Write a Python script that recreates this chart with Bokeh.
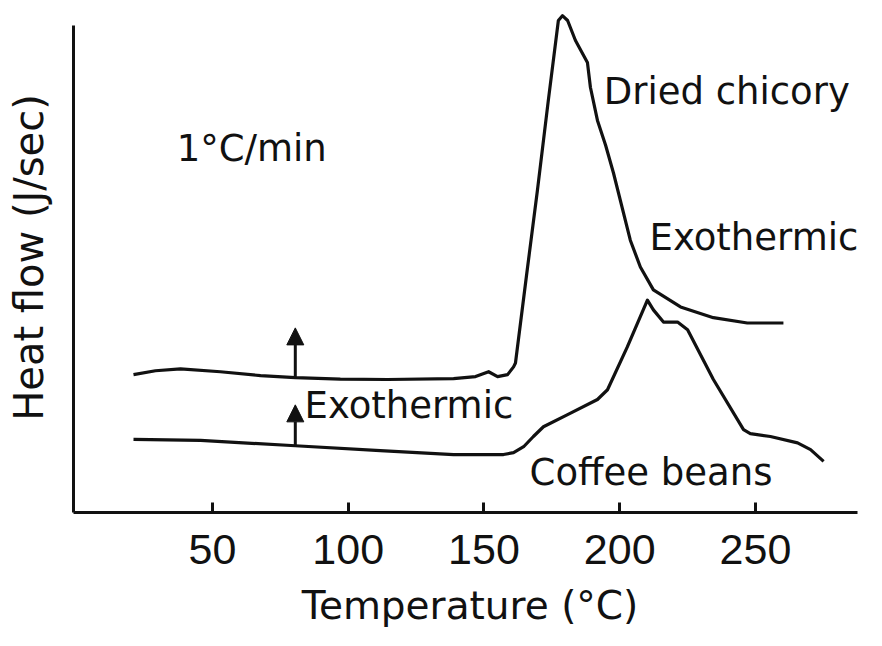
from bokeh.plotting import figure
from bokeh.models import Label, Arrow, NormalHead, FixedTicker, ColumnDataSource
from bokeh.embed import file_html
from bokeh.resources import INLINE

# ---- data (y in arbitrary heat-flow units) ----
chicory_temp = [20.9, 29.0, 38.2, 52.9, 67.7, 80.5, 97.1, 114.5, 138.8, 146.9, 151.7,
                155.0, 158.7, 160.9, 161.6, 165.7, 169.7, 173.7, 177.4, 178.9, 180.8,
                183.7, 188.1, 189.2, 191.8, 194.8, 197.7, 203.9, 207.6, 212.4, 222.4,
                234.5, 247.0, 260.3]
chicory_flow = [28.3, 29.1, 29.5, 28.9, 28.1, 27.7, 27.4, 27.3, 27.5, 27.9, 28.9,
                27.9, 28.3, 29.9, 30.7, 48.8, 66.2, 84.6, 101.0, 102.0, 101.0,
                96.9, 92.4, 87.3, 80.5, 75.4, 69.7, 55.9, 50.4, 45.7, 42.2,
                40.0, 38.9, 38.9]

coffee_temp = [20.9, 45.6, 80.5, 111.8, 138.8, 157.2, 160.9, 164.6, 168.2, 171.9,
               180.8, 191.8, 195.5, 202.8, 210.2, 212.4, 216.1, 221.3, 225.0, 234.5,
               245.6, 248.1, 255.5, 265.5, 270.3, 275.1]
coffee_flow = [15.0, 14.8, 13.7, 12.7, 11.9, 11.9, 12.3, 13.5, 15.6, 17.6,
               20.1, 23.2, 25.2, 34.0, 43.6, 41.6, 39.1, 39.1, 37.5, 27.3,
               17.0, 16.2, 15.6, 14.3, 12.9, 10.5]

arrow_temp = [80.5, 80.5]
arrow_start = [27.7, 13.7]
arrow_end = [37.9, 22.1]

x_ticks = [50, 100, 150, 200, 250]

INK = "#111111"
FONT = "DejaVu Sans"

p = figure(width=866, height=630, output_backend="svg", toolbar_location=None,
           x_range=(-1.2, 290.9), y_range=(0, 104.7),
           min_border_left=73, min_border_right=0, min_border_top=2, min_border_bottom=117,
           background_fill_color="white", border_fill_color="white")
p.outline_line_color = None
p.grid.visible = False

# x axis
p.xaxis.ticker = FixedTicker(ticks=x_ticks)
p.xaxis.bounds = (-1.2, 287.6)
p.xaxis.minor_tick_line_color = None
p.xaxis.major_tick_in = 10
p.xaxis.major_tick_out = 0
p.xaxis.major_tick_line_width = 3
p.xaxis.major_tick_line_color = INK
p.xaxis.axis_line_width = 3
p.xaxis.axis_line_color = INK
p.xaxis.major_label_text_font = "Liberation Sans"
p.xaxis.major_label_text_font_size = "43px"
p.xaxis.major_label_text_color = INK
p.xaxis.major_label_standoff = 22
p.xaxis.axis_label = "Temperature (°C)"
p.xaxis.axis_label_text_font = FONT
p.xaxis.axis_label_text_font_size = "39px"
p.xaxis.axis_label_text_font_style = "normal"
p.xaxis.axis_label_text_color = INK
p.xaxis.axis_label_standoff = 16

# y axis
p.yaxis.ticker = FixedTicker(ticks=[])
p.yaxis.minor_tick_line_color = None
p.yaxis.major_tick_line_color = None
p.yaxis.bounds = (0, 100)
p.yaxis.axis_line_width = 3
p.yaxis.axis_line_color = INK
p.yaxis.axis_label = "Heat flow (J/sec)"
p.yaxis.axis_label_text_font = FONT
p.yaxis.axis_label_text_font_size = "40px"
p.yaxis.axis_label_text_font_style = "normal"
p.yaxis.axis_label_text_color = INK
p.yaxis.axis_label_standoff = 22

# curves
p.line(chicory_temp, chicory_flow, line_color=INK, line_width=3.2, line_join="round")
p.line(coffee_temp, coffee_flow, line_color=INK, line_width=3.2, line_join="round")

# exothermic arrows
arrow_src = ColumnDataSource(dict(x=arrow_temp, y0=arrow_start, y1=arrow_end))
p.add_layout(Arrow(x_start="x", y_start="y0", x_end="x", y_end="y1", source=arrow_src,
                   line_color=INK, line_width=3,
                   end=NormalHead(size=17, fill_color=INK, line_color=INK, line_width=1)))

# annotations
def lab(x, y, txt):
    p.add_layout(Label(x=x, y=y, text=txt, text_font=FONT, text_font_size="37px",
                       text_color=INK, text_align="left", text_baseline="alphabetic"))

lab(194.1, 86.4, "Dried chicory")
lab(211.0, 56.5, "Exothermic")
lab(83.9, 21.9, "Exothermic")
lab(166.8, 8.3, "Coffee beans")
lab(36.8, 74.7, "1°C/min")

open("out.html", "w").write(file_html(p, INLINE))
